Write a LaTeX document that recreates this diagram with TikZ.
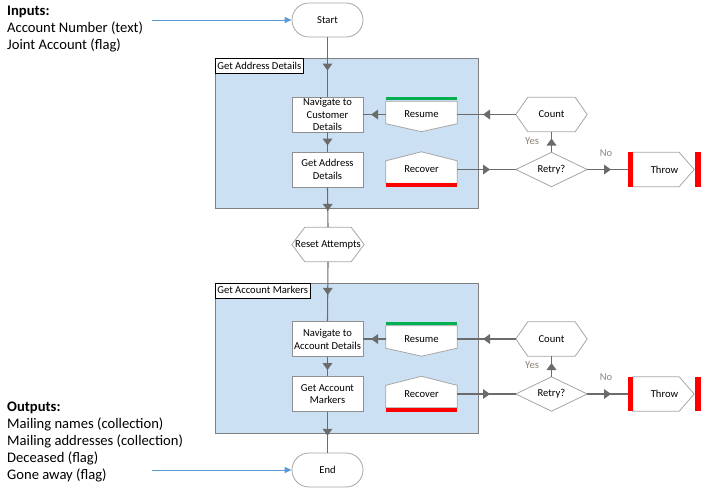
\documentclass[tikz,border=0pt]{standalone}
\usepackage{fontspec}
\setmainfont{Carlito}
\usetikzlibrary{decorations.markings,arrows.meta}
\pgfdeclarelayer{bg}
\pgfdeclarelayer{shp}
\pgfsetlayers{bg,shp,main}
\definecolor{blockfill}{HTML}{CCE0F4}
\definecolor{blockline}{HTML}{808080}
\definecolor{conn}{HTML}{6B6B6B}
\definecolor{shapeline}{HTML}{A6A6A6}
\definecolor{boxline}{HTML}{8F8F8F}
\definecolor{flowblue}{HTML}{5B9BD5}
\definecolor{okgreen}{HTML}{00B050}
\definecolor{errred}{HTML}{FF0000}
\definecolor{yescol}{HTML}{8B7F70}
\definecolor{nocol}{HTML}{7F8A99}
\tikzset{
  small/.style={font=\fontsize{10.6}{12.8}\selectfont},
  big/.style={font=\fontsize{14.6}{17}\selectfont},
  stagebox/.style={small, draw=boxline, fill=white, align=center, inner sep=0pt, line width=0.8pt, minimum width=71pt, minimum height=35pt},
  shapenode/.style={small, align=center, inner sep=0pt, minimum width=71pt},
  outline/.style={draw=shapeline, fill=white, line width=0.8pt, line join=miter},
  terminal/.style={small, draw=shapeline, fill=white, rounded corners=17pt, minimum width=71pt, minimum height=34pt, inner sep=0pt, line width=0.8pt},
  blockbox/.style={draw=blockline, fill=blockfill, line width=1pt, anchor=north west, minimum width=263pt, minimum height=150pt, inner sep=0pt},
  blocklabel/.style={small, draw=black, fill=white, line width=0.7pt, anchor=north west, inner xsep=2pt, inner ysep=0pt, minimum height=15pt},
  flow/.style={draw=conn, line width=1.1pt, postaction=decorate, decoration={markings, mark=at position 0.5 with {\fill[conn] (3.5pt,0pt) -- (-3.5pt,5pt) -- (-3.5pt,-5pt) -- cycle;}}},
  bluearrow/.style={draw=flowblue, line width=0.9pt, -{Triangle[length=7pt,width=6pt]}},
  branch/.style={small, inner sep=0pt},
  iotext/.style={big, align=left, anchor=north west, inner sep=0pt},
}
\begin{document}
\begin{tikzpicture}[x=1pt,y=-1pt]
\useasboundingbox (0,0) rectangle (705,491);

% Inputs / Start
\node[iotext] (inputs) at (7,6) {\textbf{Inputs:}\\Account Number (text)\\Joint Account (flag)};
\coordinate (inarrow) at (152,20);
\node[terminal] (start) at (327.5,20) {Start};
\draw[bluearrow] (inarrow) -- (start.west);

% ---------- Block 1 ----------
\begin{pgfonlayer}{bg}
\node[blockbox] (blk1) at (215,58) {};
\end{pgfonlayer}
\node[blocklabel] (blk1lbl) at (blk1.north west) {Get Address Details\hspace{5pt}};
\node[stagebox] (nav1) at (327.5,114.5) {Navigate to\\Customer\\Details};
\node[stagebox] (get1) at (327.5,169.5) {Get Address\\Details};
\node[shapenode, minimum height=26pt] (resume1) at (421.5,114.5) {Resume};
\node[shapenode, minimum height=27pt] (recover1) at (421.5,169.5) {Recover};
\node[shapenode, minimum height=34pt] (count1) at (551.5,114.5) {Count};
\node[shapenode, minimum height=34pt] (retry1) at (551.5,169.5) {Retry?};
\node[shapenode, minimum width=73pt, minimum height=34pt] (throw1) at (664.5,169.5) {Throw};
\node[branch, text=yescol] (yes1) at (532,141) {Yes};
\node[branch, text=nocol] (no1) at (606,153) {No};
\begin{pgfonlayer}{shp}
\draw[outline] (resume1.north west) -- (resume1.north east) -- ([yshift=4pt]resume1.south east) -- ([yshift=-4pt]resume1.south) -- ([yshift=4pt]resume1.south west) -- cycle;
\fill[okgreen] ([yshift=1pt]resume1.north west) rectangle ([yshift=4pt]resume1.north east);
\draw[outline] ([yshift=4pt]recover1.north) -- ([yshift=-5pt]recover1.north east) -- (recover1.south east) -- (recover1.south west) -- ([yshift=-5pt]recover1.north west) -- cycle;
\fill[errred] (recover1.south west) rectangle ([yshift=-4pt]recover1.south east);
\draw[outline] (count1.west) -- ([xshift=12pt]count1.north west) -- ([xshift=-12pt]count1.north east) -- (count1.east) -- ([xshift=-12pt]count1.south east) -- ([xshift=12pt]count1.south west) -- cycle;
\draw[outline] (retry1.west) -- (retry1.north) -- (retry1.east) -- (retry1.south) -- cycle;
\draw[outline] ([xshift=5pt]throw1.north west) -- ([xshift=-22pt]throw1.north east) -- ([xshift=-7pt]throw1.east) -- ([xshift=-22pt]throw1.south east) -- ([xshift=5pt]throw1.south west) -- cycle;
\fill[errred] (throw1.north west) rectangle ([xshift=5pt]throw1.south west);
\fill[errred] ([xshift=-6pt]throw1.north east) rectangle (throw1.south east);
\end{pgfonlayer}

% Reset Attempts
\node[shapenode, minimum width=72pt, minimum height=34pt] (reset) at (328,244.5) {Reset Attempts};
\begin{pgfonlayer}{shp}
\draw[outline] (reset.west) -- ([xshift=13pt]reset.north west) -- ([xshift=-13pt]reset.north east) -- (reset.east) -- ([xshift=-13pt]reset.south east) -- ([xshift=13pt]reset.south west) -- cycle;
\end{pgfonlayer}

% ---------- Block 2 ----------
\begin{scope}[shift={(0,224.5)}]
\begin{pgfonlayer}{bg}
\node[blockbox] (blk2) at (215,58) {};
\end{pgfonlayer}
\node[blocklabel] (blk2lbl) at (blk2.north west) {Get Account Markers\hspace{5pt}};
\node[stagebox] (nav2) at (327.5,114.5) {Navigate to\\Account Details};
\node[stagebox] (get2) at (327.5,169.5) {Get Account\\Markers};
\node[shapenode, minimum height=26pt] (resume2) at (421.5,114.5) {Resume};
\node[shapenode, minimum height=27pt] (recover2) at (421.5,169.5) {Recover};
\node[shapenode, minimum height=34pt] (count2) at (551.5,114.5) {Count};
\node[shapenode, minimum height=34pt] (retry2) at (551.5,169.5) {Retry?};
\node[shapenode, minimum width=73pt, minimum height=34pt] (throw2) at (664.5,169.5) {Throw};
\node[branch, text=yescol] (yes2) at (532,141) {Yes};
\node[branch, text=nocol] (no2) at (606,153) {No};
\begin{pgfonlayer}{shp}
\draw[outline] (resume2.north west) -- (resume2.north east) -- ([yshift=4pt]resume2.south east) -- ([yshift=-4pt]resume2.south) -- ([yshift=4pt]resume2.south west) -- cycle;
\fill[okgreen] ([yshift=1pt]resume2.north west) rectangle ([yshift=4pt]resume2.north east);
\draw[outline] ([yshift=4pt]recover2.north) -- ([yshift=-5pt]recover2.north east) -- (recover2.south east) -- (recover2.south west) -- ([yshift=-5pt]recover2.north west) -- cycle;
\fill[errred] (recover2.south west) rectangle ([yshift=-4pt]recover2.south east);
\draw[outline] (count2.west) -- ([xshift=12pt]count2.north west) -- ([xshift=-12pt]count2.north east) -- (count2.east) -- ([xshift=-12pt]count2.south east) -- ([xshift=12pt]count2.south west) -- cycle;
\draw[outline] (retry2.west) -- (retry2.north) -- (retry2.east) -- (retry2.south) -- cycle;
\draw[outline] ([xshift=5pt]throw2.north west) -- ([xshift=-22pt]throw2.north east) -- ([xshift=-7pt]throw2.east) -- ([xshift=-22pt]throw2.south east) -- ([xshift=5pt]throw2.south west) -- cycle;
\fill[errred] (throw2.north west) rectangle ([xshift=5pt]throw2.south west);
\fill[errred] ([xshift=-6pt]throw2.north east) rectangle (throw2.south east);
\end{pgfonlayer}
\end{scope}

% Outputs / End
\node[iotext] (outputs) at (7,402) {\textbf{Outputs:}\\Mailing names (collection)\\Mailing addresses (collection)\\Deceased (flag)\\Gone away (flag)};
\coordinate (outarrow) at (152,470);
\node[terminal] (end) at (327.5,470) {End};
\draw[bluearrow] (outarrow) -- (end.west);

% ---------- Connectors ----------
\draw[flow] (start.south) -- (nav1.north);
\draw[flow] (nav1.south) -- (get1.north);
\draw[flow] (resume1.west) -- (nav1.east);
\draw[flow] (count1.west) -- (resume1.east);
\draw[flow] (recover1.east) -- (retry1.west);
\draw[flow] (retry1.north) -- (count1.south);
\draw[flow] (retry1.east) -- (throw1.west);
\draw[flow] (get1.south) -- (reset.north);
\draw[flow] (reset.south) -- (nav2.north);
\draw[flow] (nav2.south) -- (get2.north);
\draw[flow] (resume2.west) -- (nav2.east);
\draw[flow] (count2.west) -- (resume2.east);
\draw[flow] (recover2.east) -- (retry2.west);
\draw[flow] (retry2.north) -- (count2.south);
\draw[flow] (retry2.east) -- (throw2.west);
\draw[flow] (get2.south) -- (end.north);
\end{tikzpicture}
\end{document}
